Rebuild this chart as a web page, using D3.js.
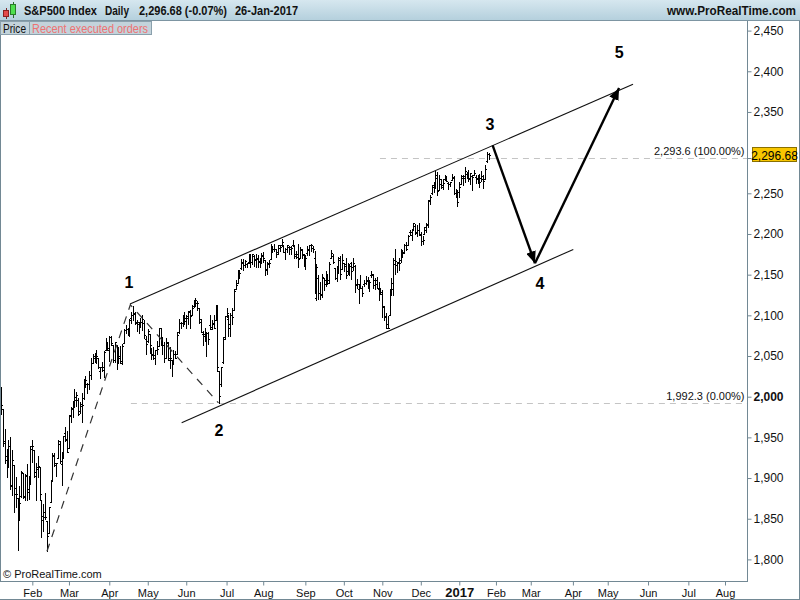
<!DOCTYPE html>
<html>
<head>
<meta charset="utf-8">
<script src="https://cdn.jsdelivr.net/npm/d3@7"></script>
<style>
body { margin: 0; background: #fff; }
svg { display: block; font-family: "Liberation Sans", Arial, sans-serif; }
</style>
</head>
<body>
<div id="chart"></div>
<script>
// trading calendar
var firstDay = "2016-01-04", lastAxisDay = "2017-08-31";
var holidays = ["2016-01-18", "2016-02-15", "2016-03-25", "2016-05-30", "2016-07-04", "2016-09-05",
    "2016-11-24", "2016-12-26", "2017-01-02", "2017-01-16", "2017-02-20", "2017-04-14",
    "2017-05-29", "2017-07-04"];
var monthNames = ["Jan", "Feb", "Mar", "Apr", "May", "Jun", "Jul", "Aug", "Sep", "Oct", "Nov", "Dec"];

// S&P500 daily bars, Jan-2016 .. 26-Jan-2017 (one row per month)
var opens = [
 2038,2013,2011,1985,1946,1927,1928,1940,1892,1916,1888,1876,1862,1878,1906,1878,1903,1886,1895,
 1936,1935,1907,1911,1913,1873,1848,1858,1847,1833,1871,1898,1928,1916,1925,1942,1917,1931,1955,1947,
 1937,1976,1985,1995,1996,1996,1982,1991,1998,2019,2015,2015,2027,2041,2048,2048,2048,2032,2037,2033,2058,2064,
 2057,2073,2063,2045,2063,2046,2050,2044,2066,2082,2083,2078,2097,2100,2103,2092,2089,2090,2092,2091,2071,
 2068,2077,2060,2053,2047,2057,2062,2084,2068,2063,2048,2066,2045,2045,2042,2053,2053,2079,2091,2091,2100,
 2093,2097,2104,2101,2111,2112,2115,2109,2092,2077,2077,2068,2078,2088,2086,2090,2094,2103,2031,2016,2043,2073,
 2099,2096,2084,2100,2107,2132,2140,2156,2158,2166,2162,2163,2166,2173,2166,2173,2169,2170,2166,2169,
 2173,2168,2156,2163,2169,2183,2182,2182,2178,2183,2186,2186,2178,2182,2184,2182,2187,2185,2173,2175,2171,2181,2174,
 2171,2177,2181,2186,2183,2170,2121,2146,2128,2125,2146,2143,2145,2144,2171,2173,2158,2146,2161,2168,2157,
 2164,2163,2155,2158,2164,2160,2161,2138,2132,2139,2133,2138,2140,2142,2139,2149,2150,2137,2143,2132,2129,
 2129,2110,2099,2084,2100,2132,2132,2168,2162,2166,2168,2177,2178,2187,2186,2202,2199,2206,2210,2201,2205,
 2200,2191,2200,2208,2211,2242,2250,2258,2263,2269,2254,2267,2260,2267,2270,2263,2261,2266,2270,2250,2252,
 2251,2261,2269,2271,2274,2269,2268,2271,2272,2270,2269,2272,2269,2268,2268,2290,2298
];
var highs = [
 2038,2022,2012,1985,1960,1936,1947,1950,1935,1916,1901,1876,1890,1909,1906,1905,1917,1903,1940,
 1947,1935,1918,1927,1913,1873,1868,1882,1847,1865,1896,1931,1931,1919,1947,1946,1932,1952,1963,1958,
 1978,1987,1994,2009,2006,1999,1993,2005,2022,2025,2017,2032,2047,2052,2054,2057,2048,2036,2043,2056,2072,2067,
 2075,2074,2063,2067,2063,2061,2062,2065,2083,2088,2084,2095,2104,2111,2104,2094,2092,2097,2100,2094,2074,
 2083,2077,2060,2061,2058,2068,2085,2084,2073,2067,2072,2067,2061,2045,2058,2056,2079,2095,2092,2099,2104,
 2100,2105,2106,2113,2119,2121,2118,2109,2095,2081,2085,2080,2080,2101,2094,2100,2113,2113,2031,2036,2073,2099,
 2109,2101,2103,2109,2132,2143,2155,2156,2169,2169,2168,2164,2176,2175,2176,2174,2175,2174,2170,2177,
 2178,2168,2166,2168,2188,2185,2188,2182,2186,2186,2194,2186,2183,2187,2185,2185,2193,2187,2179,2188,2184,2182,2175,
 2174,2185,2187,2188,2185,2179,2163,2150,2141,2151,2146,2154,2151,2165,2180,2175,2158,2161,2172,2173,2175,
 2164,2170,2164,2163,2166,2170,2162,2145,2138,2149,2136,2144,2148,2147,2143,2155,2151,2146,2147,2141,2133,
 2131,2112,2103,2099,2132,2146,2170,2182,2166,2171,2181,2179,2188,2190,2199,2205,2205,2213,2212,2211,2214,
 2203,2198,2209,2213,2242,2248,2260,2264,2278,2276,2272,2268,2267,2273,2271,2264,2264,2274,2271,2255,2254,
 2264,2273,2272,2282,2276,2279,2275,2272,2279,2272,2272,2274,2277,2272,2285,2301,2299
];
var lows = [
 1990,2004,1979,1939,1918,1901,1914,1886,1879,1858,1865,1812,1849,1877,1876,1873,1873,1874,1894,
 1920,1901,1873,1901,1873,1828,1835,1850,1810,1833,1871,1899,1915,1902,1925,1918,1891,1925,1946,1932,
 1937,1969,1975,1987,1989,1977,1980,1969,1997,2012,2005,2010,2022,2041,2043,2041,2035,2023,2032,2024,2058,2057,
 2044,2063,2043,2043,2034,2041,2042,2040,2066,2078,2076,2074,2091,2094,2089,2081,2078,2086,2082,2072,2052,
 2067,2054,2046,2046,2040,2053,2062,2064,2053,2043,2048,2045,2035,2026,2042,2047,2053,2078,2085,2087,2089,
 2085,2089,2085,2100,2110,2112,2107,2090,2079,2064,2069,2050,2065,2083,2083,2084,2094,2032,1992,2013,2041,2071,
 2098,2074,2075,2089,2107,2132,2140,2146,2157,2156,2159,2159,2164,2160,2163,2161,2159,2160,2159,2164,
 2166,2150,2151,2159,2169,2178,2179,2172,2176,2179,2185,2178,2169,2178,2175,2176,2187,2171,2170,2160,2170,2170,2161,
 2157,2174,2174,2179,2178,2128,2119,2120,2120,2122,2131,2136,2139,2140,2171,2164,2145,2142,2152,2145,2157,
 2155,2146,2151,2150,2145,2156,2129,2133,2115,2133,2124,2136,2138,2133,2130,2147,2133,2132,2133,2119,2126,
 2098,2094,2085,2084,2100,2125,2125,2151,2153,2156,2166,2172,2177,2180,2186,2199,2193,2205,2200,2198,2199,
 2187,2188,2200,2203,2209,2237,2249,2252,2258,2248,2254,2257,2255,2266,2265,2255,2259,2266,2249,2245,2234,
 2245,2261,2260,2264,2269,2265,2261,2254,2272,2263,2263,2258,2265,2257,2267,2289,2292
];
var closes = [
 2013,2017,1990,1943,1922,1924,1939,1890,1922,1880,1881,1859,1869,1907,1877,1904,1883,1893,1940,
 1939,1903,1913,1915,1880,1853,1852,1852,1829,1865,1896,1927,1918,1918,1946,1921,1930,1952,1948,1932,
 1978,1986,1993,2000,2002,1979,1989,1990,2022,2020,2016,2027,2041,2050,2052,2050,2037,2036,2037,2055,2064,2060,
 2073,2066,2045,2067,2042,2048,2042,2062,2082,2083,2081,2094,2101,2102,2091,2092,2088,2092,2095,2076,2065,
 2081,2063,2051,2051,2057,2059,2084,2064,2064,2047,2067,2047,2048,2040,2052,2048,2076,2091,2090,2099,2097,
 2099,2105,2099,2109,2112,2119,2115,2096,2079,2075,2072,2078,2071,2083,2089,2085,2113,2037,2001,2036,2071,2099,
 2103,2089,2100,2098,2130,2137,2152,2152,2164,2162,2167,2164,2173,2165,2175,2168,2169,2167,2170,2174,
 2171,2157,2164,2164,2183,2181,2182,2175,2186,2184,2190,2178,2182,2187,2184,2183,2187,2175,2172,2169,2180,2176,2171,
 2171,2180,2186,2186,2181,2128,2159,2127,2126,2147,2139,2139,2140,2163,2177,2165,2146,2160,2171,2151,2168,
 2161,2150,2160,2161,2154,2164,2137,2139,2133,2133,2127,2140,2144,2141,2141,2151,2143,2139,2133,2126,2126,
 2112,2098,2089,2085,2132,2140,2163,2167,2164,2164,2180,2177,2187,2182,2198,2203,2205,2213,2202,2205,2199,
 2191,2192,2205,2212,2241,2246,2260,2257,2272,2253,2262,2258,2263,2271,2265,2261,2264,2269,2250,2249,2239,
 2258,2271,2269,2277,2269,2269,2275,2270,2275,2268,2272,2264,2271,2265,2280,2298,2297
];

// 2,300 sits under the last-price box, so it carries no label
var priceTicks = [1800, 1850, 1900, 1950, 2000, 2050, 2100, 2150, 2200, 2250, 2350, 2400, 2450];
var boldPriceTick = 2000;
var lastPrice = 2296.68;

// drawings: [trading day index, price]
var waveDashed = [[27, 1810], [72.5, 2113], [120.6, 1992.3]];
var channelTop = [[72.3, 2114], [346.8, 2384]];
var channelBottom = [[100.5, 1968], [314.2, 2181]];
var arrowPath = [[270.2, 2309], [293.3, 2164], [339.2, 2379.5]];
var waveLabels = [["1", 71.8, 2141], ["2", 120.9, 1959], ["3", 268.8, 2335], ["4", 296, 2140], ["5", 339.2, 2423]];
var fibLevels = [[2293.6, "100.00%", 208.7], [1992.3, "0.00%", 72.8]];

var W = 800, H = 600;
var axisX = 747.5, axisY = 581.5;

var parse = d3.utcParse("%Y-%m-%d"), fmt = d3.utcFormat("%Y-%m-%d");
var days = d3.utcDays(parse(firstDay), d3.utcDay.offset(parse(lastAxisDay), 1))
    .filter(function(d) { return d.getUTCDay() % 6 !== 0 && holidays.indexOf(fmt(d)) < 0; });

var x = d3.scaleLinear().domain([0, 397]).range([-2.5, 725]);
var y = d3.scaleLinear().domain([1800, 2450]).range([559.4, 30.6]);

var svg = d3.select("#chart").append("svg").attr("width", W).attr("height", H);
var defs = svg.append("defs");

var grad = defs.append("linearGradient").attr("id", "hdr").attr("x1", 0).attr("y1", 0).attr("x2", 0).attr("y2", 1);
grad.append("stop").attr("offset", "0%").attr("stop-color", "#d6e7ef");
grad.append("stop").attr("offset", "100%").attr("stop-color", "#b3cfdc");

defs.append("clipPath").attr("id", "plot-clip").append("rect")
    .attr("x", 1).attr("y", 21).attr("width", axisX - 1).attr("height", axisY - 21);

defs.append("marker").attr("id", "head")
    .attr("markerUnits", "userSpaceOnUse")
    .attr("viewBox", "0 0 12 10").attr("refX", 12).attr("refY", 5)
    .attr("markerWidth", 12).attr("markerHeight", 10).attr("orient", "auto")
    .append("path").attr("d", "M0,0L12,5L0,10Z").attr("fill", "#000");

var plot = svg.append("g").attr("clip-path", "url(#plot-clip)");

// fib levels
fibLevels.forEach(function(f) {
    plot.append("line")
        .attr("x1", x(f[2])).attr("x2", axisX)
        .attr("y1", Math.round(y(f[0])) + 0.5).attr("y2", Math.round(y(f[0])) + 0.5)
        .attr("stroke", "#c4c4c4").attr("stroke-dasharray", "6,5");
    svg.append("text").attr("x", axisX - 3).attr("y", y(f[0]) - 3)
        .attr("text-anchor", "end").attr("font-size", 11).attr("fill", "#111")
        .text(d3.format(",.1f")(f[0]) + " (" + f[1] + ")");
});

// bars
var bars = plot.append("g").attr("stroke", "#000").attr("stroke-width", 1)
    .attr("shape-rendering", "crispEdges").attr("fill", "none");
bars.selectAll("path").data(closes).enter().append("path")
    .attr("d", function(c, i) {
        var xi = Math.round(x(i)) + 0.5;
        var yo = Math.round(y(opens[i])) + 0.5, yc = Math.round(y(c)) + 0.5;
        return "M" + xi + "," + Math.round(y(highs[i])) + "V" + (Math.round(y(lows[i])) + 1) +
            "M" + (xi - 1.5) + "," + yo + "H" + xi +
            "M" + xi + "," + yc + "H" + (xi + 1.5);
    });

var line = d3.line().x(function(d) { return x(d[0]); }).y(function(d) { return y(d[1]); });

plot.append("path").attr("d", line(waveDashed)).attr("fill", "none")
    .attr("stroke", "#333").attr("stroke-width", 1.2).attr("stroke-dasharray", "8,7");
[channelTop, channelBottom].forEach(function(c) {
    plot.append("path").attr("d", line(c)).attr("fill", "none")
        .attr("stroke", "#111").attr("stroke-width", 1.1);
});
for (var a = 0; a < arrowPath.length - 1; a++) {
    plot.append("path").attr("d", line([arrowPath[a], arrowPath[a + 1]]))
        .attr("fill", "none").attr("stroke", "#000").attr("stroke-width", 2.4)
        .attr("marker-end", "url(#head)");
}

svg.append("g").selectAll("text").data(waveLabels).enter().append("text")
    .attr("x", function(d) { return x(d[1]); })
    .attr("y", function(d) { return y(d[2]); })
    .attr("dy", "0.36em").attr("text-anchor", "middle")
    .attr("font-size", 16).attr("font-weight", "bold").attr("fill", "#000")
    .text(function(d) { return d[0]; });

// frame
var frame = svg.append("g").attr("stroke", "#728894").attr("shape-rendering", "crispEdges");
frame.append("line").attr("x1", 0.5).attr("x2", 0.5).attr("y1", 21).attr("y2", axisY);
frame.append("line").attr("x1", axisX).attr("x2", axisX).attr("y1", 21).attr("y2", axisY);
frame.append("line").attr("x1", 0).attr("x2", axisX).attr("y1", axisY).attr("y2", axisY);
frame.append("line").attr("x1", 0).attr("x2", W).attr("y1", H - 0.5).attr("y2", H - 0.5);
frame.append("line").attr("x1", W - 0.5).attr("x2", W - 0.5).attr("y1", 21).attr("y2", H);

// price axis
var yAxis = d3.axisRight(y).tickValues(priceTicks).tickSize(4).tickPadding(2)
    .tickFormat(d3.format(","));
var yG = svg.append("g").attr("transform", "translate(" + axisX + ",0)").call(yAxis);
yG.select(".domain").remove();
yG.selectAll("line").attr("stroke", "#728894");
yG.selectAll("text").attr("font-size", 12).attr("font-family", "Liberation Sans, Arial, sans-serif")
    .attr("fill", "#111")
    .attr("font-weight", function(d) { return d === boldPriceTick ? "bold" : "normal"; });

// last price box
svg.append("line").attr("x1", axisX).attr("x2", axisX + 4)
    .attr("y1", Math.round(y(2293.6)) + 0.5).attr("y2", Math.round(y(2293.6)) + 0.5).attr("stroke", "#728894");
svg.append("rect").attr("x", 752.5).attr("y", Math.round(y(lastPrice)) - 7.5)
    .attr("width", 44).attr("height", 14).attr("fill", "#f8c600").attr("stroke", "#8a7000");
svg.append("text").attr("x", 774.5).attr("y", y(lastPrice)).attr("dy", "0.36em")
    .attr("text-anchor", "middle").attr("font-size", 12).attr("fill", "#000")
    .text(d3.format(",.2f")(lastPrice));

// time axis: first trading day of each month
var monthTicks = [];
days.forEach(function(d, i) {
    if (i > 0 && d.getUTCMonth() !== days[i - 1].getUTCMonth()) monthTicks.push(i);
});
var xAxis = d3.axisBottom(x).tickValues(monthTicks).tickSize(4).tickPadding(3)
    .tickFormat(function(i) {
        var d = days[i];
        return d.getUTCMonth() === 0 ? String(d.getUTCFullYear()) : monthNames[d.getUTCMonth()];
    });
var xG = svg.append("g").attr("transform", "translate(0," + axisY + ")").call(xAxis);
xG.select(".domain").remove();
xG.selectAll("line").attr("stroke", "#728894");
xG.selectAll("text").attr("fill", "#111").attr("font-family", "Liberation Sans, Arial, sans-serif")
    .attr("font-size", function(i) { return days[i].getUTCMonth() === 0 ? 13 : 11; })
    .attr("font-weight", function(i) { return days[i].getUTCMonth() === 0 ? "bold" : "normal"; })
    .attr("y", null).attr("dy", null)
    .attr("y", 15.5);

svg.append("text").attr("x", 3).attr("y", 578).attr("font-size", 11).attr("fill", "#111")
    .text("\u00a9 ProRealTime.com");

// header
svg.append("rect").attr("x", 0).attr("y", 0).attr("width", W).attr("height", 21).attr("fill", "url(#hdr)");
svg.append("line").attr("x1", 0).attr("x2", W).attr("y1", 20.5).attr("y2", 20.5)
    .attr("stroke", "#7d95a2");
var icon = svg.append("g").attr("shape-rendering", "crispEdges");
icon.append("line").attr("x1", 6.5).attr("x2", 6.5).attr("y1", 8).attr("y2", 19).attr("stroke", "#7a2a2a");
icon.append("rect").attr("x", 3.5).attr("y", 10.5).attr("width", 5).attr("height", 6).attr("fill", "#e44a4a").attr("stroke", "#8a2020");
icon.append("line").attr("x1", 13.5).attr("x2", 13.5).attr("y1", 2).attr("y2", 18).attr("stroke", "#2a6a2a");
icon.append("rect").attr("x", 10.5).attr("y", 4.5).attr("width", 5).attr("height", 10).attr("fill", "#4ee04e").attr("stroke", "#2a7a2a");

// [text, left x, width]
var hdr = [["S&P500 Index", 24, 73], ["Daily", 105, 24], ["2,296.68 (-0.07%)", 139, 88], ["26-Jan-2017", 235, 63]];
hdr.forEach(function(h) {
    svg.append("text").attr("x", h[1]).attr("y", 15).attr("font-size", 12).attr("font-weight", "bold")
        .attr("textLength", h[2]).attr("lengthAdjust", "spacingAndGlyphs")
        .attr("fill", "#111").text(h[0]);
});
svg.append("text").attr("x", 667).attr("y", 15).attr("font-size", 12)
    .attr("textLength", 129).attr("lengthAdjust", "spacingAndGlyphs")
    .attr("font-weight", "bold").attr("fill", "#111").text("www.ProRealTime.com");

// tabs: [text, x, box width, text width, colour]
var tabs = [["Price", 0.5, 29, 23, "#111"], ["Recent executed orders", 29.5, 122, 116, "#ee7272"]];
tabs.forEach(function(t) {
    svg.append("rect").attr("x", t[1]).attr("y", 21.5).attr("width", t[2]).attr("height", 13)
        .attr("fill", "#c3d3db").attr("stroke", "#8aa0ac");
    svg.append("text").attr("x", t[1] + 2.5).attr("y", 32.5).attr("font-size", 12)
        .attr("textLength", t[3]).attr("lengthAdjust", "spacingAndGlyphs")
        .attr("fill", t[4]).text(t[0]);
});
</script>
</body>
</html>
